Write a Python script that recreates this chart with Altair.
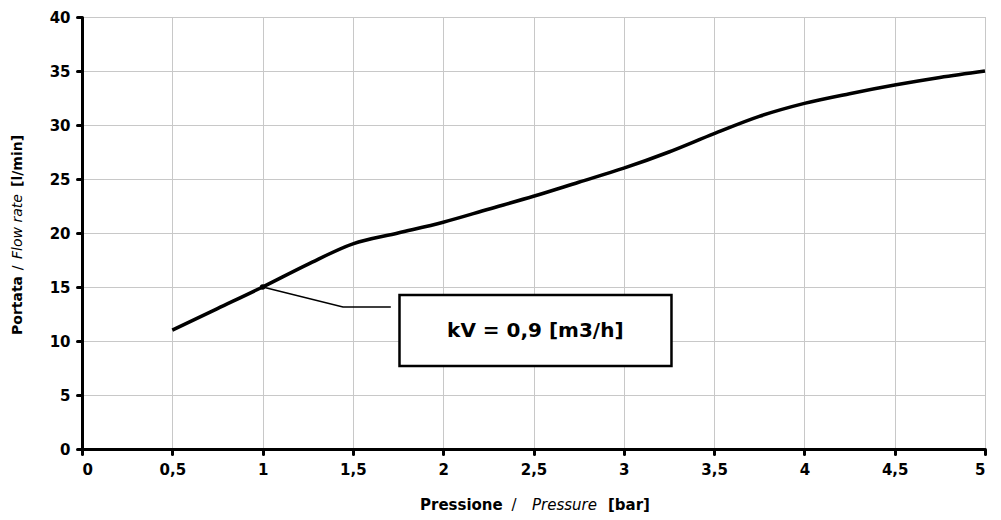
import altair as alt
import pandas as pd

pressure = [0.5, 0.75, 1.0, 1.25, 1.5, 1.75, 2.0, 2.25, 2.5, 2.75, 3.0, 3.25, 3.5, 3.75, 4.0, 4.25, 4.5, 4.75, 5.0]
flow = [11.0, 13.0, 15.0, 17.1, 19.0, 20.0, 21.0, 22.2, 23.4, 24.7, 26.0, 27.5, 29.2, 30.8, 32.0, 32.9, 33.7, 34.4, 35.0]

leader_x = [1.0, 1.445, 1.71]
leader_y = [15.0, 13.15, 13.15]
box = {"x": 1.758, "x2": 3.264, "y": 7.69, "y2": 14.26}
label_pos = {"x": 2.51, "y": 10.95, "text": "kV = 0,9 [m3/h]"}

FONT = "DejaVu Sans"
W, H = 903, 432

df = pd.DataFrame({"p": pressure, "q": flow})
xs = alt.Scale(domain=[0, 5], nice=False)
ys = alt.Scale(domain=[0, 40], nice=False)

x_axis = alt.Axis(values=[0, 0.5, 1, 1.5, 2, 2.5, 3, 3.5, 4, 4.5, 5],
                  labelExpr="replace(format(datum.value, '~g'), '.', ',')", title=None,
                  domainColor="black", domainWidth=3, tickColor="black", tickWidth=3,
                  tickSize=5, tickCap="round", labelFont=FONT, labelFontWeight="bold",
                  labelFontSize=15, labelColor="black", labelPadding=8,
                  gridColor="#c8c8c8", gridWidth=1)
y_axis = alt.Axis(values=list(range(0, 41, 5)), title=None,
                  domainColor="black", domainWidth=3, tickColor="black", tickWidth=3,
                  tickSize=5, tickCap="round", labelFont=FONT, labelFontWeight="bold",
                  labelFontSize=15, labelColor="black", labelPadding=7,
                  gridColor="#c8c8c8", gridWidth=1)

line = alt.Chart(df).mark_line(color="black", strokeWidth=3.5, interpolate="monotone").encode(
    x=alt.X("p:Q", scale=xs, axis=x_axis),
    y=alt.Y("q:Q", scale=ys, axis=y_axis),
)

leader = alt.Chart(pd.DataFrame({"x": leader_x, "y": leader_y, "o": [0, 1, 2]})).mark_line(
    color="black", strokeWidth=1.5).encode(
    x=alt.X("x:Q", scale=xs), y=alt.Y("y:Q", scale=ys), order="o:Q")

dot = alt.Chart(pd.DataFrame({"x": leader_x[:1], "y": leader_y[:1]})).mark_point(
    filled=True, color="black", size=30, opacity=1).encode(
    x=alt.X("x:Q", scale=xs), y=alt.Y("y:Q", scale=ys))

rect = alt.Chart(pd.DataFrame([box])).mark_rect(fill="white", stroke="black", strokeWidth=2.5).encode(
    x=alt.X("x:Q", scale=xs), x2="x2:Q", y=alt.Y("y:Q", scale=ys), y2="y2:Q")

txt = alt.Chart(pd.DataFrame([label_pos])).mark_text(
    font=FONT, fontWeight="bold", fontSize=20, color="black").encode(
    x=alt.X("x:Q", scale=xs), y=alt.Y("y:Q", scale=ys), text="text:N")

# axis titles with mixed styles
xt_pieces = [("Pressione", "bold", "normal", 338, "left"),
             ("/", "normal", "normal", 432, "center"),
             ("Pressure", "normal", "italic", 450, "left"),
             ("[bar]", "bold", "normal", 526, "left")]
yt_pieces = [("Portata", "bold", "normal", 318, "left"),
             ("/", "normal", "normal", 251, "center"),
             ("Flow rate", "normal", "italic", 242, "left"),
             ("[l/min]", "bold", "normal", 170, "left")]

title_layers = []
for t, w, st, px, al in xt_pieces:
    title_layers.append(alt.Chart(pd.DataFrame({"t": [t]})).mark_text(
        font=FONT, fontSize=15, fontWeight=w, fontStyle=st, align=al, baseline="middle",
        color="black").encode(x=alt.value(px), y=alt.value(H + 56), text="t:N"))
for t, w, st, py, al in yt_pieces:
    title_layers.append(alt.Chart(pd.DataFrame({"t": [t]})).mark_text(
        font=FONT, fontSize=14, fontWeight=w, fontStyle=st, align=al, baseline="middle",
        angle=270, color="black").encode(x=alt.value(-64), y=alt.value(py), text="t:N"))

chart = alt.layer(line, leader, dot, rect, txt, *title_layers).properties(
    width=W, height=H, background="white",
    padding={"left": 3, "top": 2, "right": 0, "bottom": 0}
).configure_view(stroke="#b0b0b0", strokeWidth=1)

chart.save("out.html", embed_options={"renderer": "svg", "actions": False})
